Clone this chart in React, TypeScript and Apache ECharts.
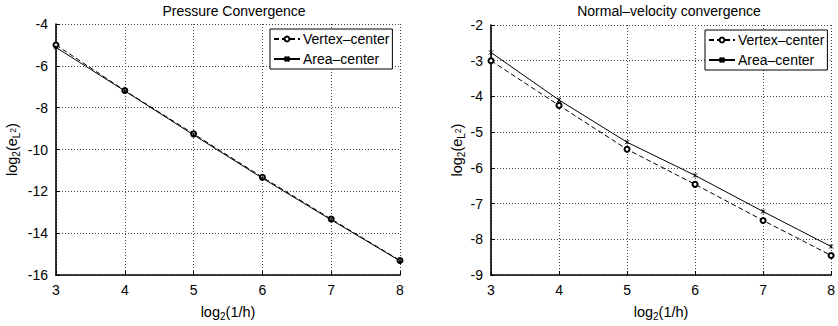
import React, { useEffect, useRef } from "react";
import * as echarts from "echarts";

const xValues = [3, 4, 5, 6, 7, 8];
const pressureVertex = [-5.0, -7.18, -9.25, -11.32, -13.32, -15.3];
const pressureArea = [-5.12, -7.2, -9.3, -11.37, -13.36, -15.32];
const velocityVertex = [-3.0, -4.25, -5.48, -6.46, -7.47, -8.45];
const velocityArea = [-2.77, -4.1, -5.28, -6.21, -7.22, -8.2];
const titles = ["Pressure Convergence", "Normal\u2013velocity convergence"];
const seriesNames = ["Vertex\u2013center", "Area\u2013center"];

const FONT = "Liberation Sans, Arial, Helvetica, sans-serif";
const CROSS = "path://M0,0L10,10M10,0L0,10M5,0L5,10";

const yName = "{a|log}{s|2}{a|(e}{s|L}{p|2}{a|)}";
const xName = "{a|log}{s|2}{a|(1/h)}";
const rich = {
  a: { fontSize: 14.5, fontFamily: FONT, color: "#000", lineHeight: 22 },
  s: { fontSize: 10, fontFamily: FONT, color: "#000", lineHeight: 22, padding: [9, 0, 0, 0] },
  p: { fontSize: 8.5, fontFamily: FONT, color: "#000", lineHeight: 22, padding: [2, 0, 0, 0] },
};

export default function App() {
  const ref = useRef<HTMLDivElement>(null);
  useEffect(() => {
    document.body.style.margin = "0";
    const chart = echarts.init(ref.current!, undefined, { renderer: "svg" });
    const pair = (arr: number[]) => xValues.map((x, i) => [x, arr[i]]);
    const axisCommon = {
      axisLine: { show: true, onZero: false, lineStyle: { color: "#000", width: 1.6 } },
      axisTick: { show: true, inside: true, length: 4, lineStyle: { color: "#000" } },
      axisLabel: { color: "#000", fontSize: 14, fontFamily: FONT },
      splitLine: { show: true, lineStyle: { color: "#444", type: [1, 2], width: 1 } },
    };
    const vertexStyle = (xi: number) => ({
      name: seriesNames[0],
      type: "line",
      xAxisIndex: xi,
      yAxisIndex: xi,
      symbol: "emptyCircle",
      symbolSize: 5,
      lineStyle: { color: "#000", width: 1, type: [5, 3] },
      itemStyle: { color: "#000", borderColor: "#000", borderWidth: 1 },
    });
    const areaStyle = (xi: number) => ({
      name: seriesNames[1],
      type: "line",
      xAxisIndex: xi,
      yAxisIndex: xi,
      symbol: CROSS,
      symbolSize: 4,
      lineStyle: { color: "#000", width: 1, type: "solid" },
      itemStyle: { color: "#000", borderColor: "#000", borderWidth: 1 },
    });
    const legendCommon = {
      orient: "vertical",
      data: seriesNames,
      itemWidth: 26,
      itemHeight: 6,
      itemGap: 6,
      padding: [3, 3, 3, 3],
      borderColor: "#000",
      borderWidth: 1,
      borderRadius: 0,
      backgroundColor: "#fff",
      textStyle: { color: "#000", fontSize: 14, fontFamily: FONT, padding: [0, 0, 0, -2] },
      selectedMode: false,
    };
    const titleStyle = { fontSize: 14, fontWeight: "normal", color: "#000", fontFamily: FONT };
    chart.setOption({
      animation: false,
      backgroundColor: "#fff",
      title: [
        { text: titles[0], left: 229, top: -1, textAlign: "center", textStyle: titleStyle },
        { text: titles[1], left: 664, top: -1, textAlign: "center", textStyle: titleStyle },
      ],
      legend: [
        { ...legendCommon, left: 270, top: 29 },
        { ...legendCommon, left: 705, top: 30 },
      ],
      grid: [
        { left: 56, top: 24, width: 344, height: 261 },
        { left: 491, top: 25, width: 345, height: 270 },
      ],
      xAxis: [0, 1].map((i) => ({
        type: "value",
        gridIndex: i,
        min: 3,
        max: 8,
        interval: 1,
        name: xName,
        nameLocation: "middle",
        nameGap: i === 0 ? 25 : 17,
        nameTextStyle: { rich },
        ...axisCommon,
      })),
      yAxis: [
        {
          type: "value",
          gridIndex: 0,
          min: -16,
          max: -4,
          interval: 2,
          name: yName,
          nameLocation: "middle",
          nameRotate: 90,
          nameGap: 33,
          nameTextStyle: { rich },
          ...axisCommon,
        },
        {
          type: "value",
          gridIndex: 1,
          min: -9,
          max: -2,
          interval: 1,
          name: yName,
          nameLocation: "middle",
          nameRotate: 90,
          nameGap: 22,
          nameTextStyle: { rich },
          ...axisCommon,
        },
      ],
      series: [
        { ...vertexStyle(0), data: pair(pressureVertex) },
        { ...areaStyle(0), data: pair(pressureArea) },
        { ...vertexStyle(1), data: pair(velocityVertex) },
        { ...areaStyle(1), data: pair(velocityArea) },
      ],
    });
    return () => chart.dispose();
  }, []);
  return <div ref={ref} style={{ width: 838, height: 326 }} />;
}
